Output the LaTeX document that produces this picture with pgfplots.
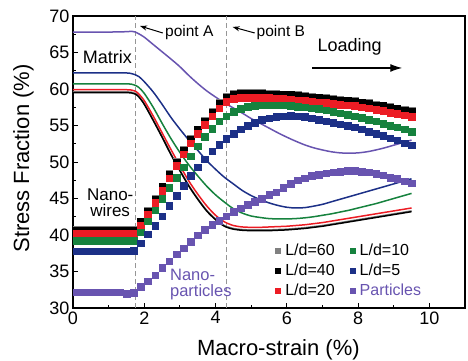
\documentclass[border=0pt]{standalone}
\usepackage{pgfplots}
\pgfplotsset{compat=1.18}
\usepackage{pgfplotstable}
\usepackage{fontspec}
\setmainfont{Liberation Sans}
\usetikzlibrary{arrows.meta}

\definecolor{cgray}{RGB}{128,128,128}
\definecolor{cred}{RGB}{236,28,36}
\definecolor{cgreen}{RGB}{22,130,62}
\definecolor{cblue}{RGB}{28,48,135}
\definecolor{cpurp}{RGB}{104,84,176}
\definecolor{cdash}{RGB}{150,150,150}

\pgfplotstableread{
x gy bk rd gn bl pu
0.1 40.7 40.6 40.2 39.2 37.8 32.2
0.3 40.7 40.6 40.2 39.2 37.8 32.2
0.5 40.7 40.6 40.2 39.2 37.8 32.2
0.7 40.7 40.6 40.2 39.2 37.8 32.2
0.9 40.7 40.6 40.2 39.2 37.8 32.2
1.1 40.7 40.6 40.2 39.2 37.8 32.2
1.3 40.7 40.6 40.2 39.2 37.8 32.2
1.5 40.7 40.6 40.2 39.2 37.8 32.0
1.7 40.7 40.6 40.2 39.2 37.9 32.1
1.9 41.9 41.8 41.3 40.4 38.9 32.9
2.1 43.4 43.3 42.8 41.9 40.1 33.7
2.3 45.0 44.9 44.4 43.4 41.3 34.5
2.5 46.7 46.6 46.1 45.0 42.6 35.5
2.7 48.4 48.3 47.8 46.5 44.0 36.4
2.9 50.1 50.0 49.5 47.9 45.4 37.4
3.1 51.7 51.6 51.1 49.3 46.8 38.2
3.3 53.2 53.1 52.6 50.8 48.1 39.1
3.5 54.5 54.4 53.9 52.2 49.3 40.0
3.7 55.7 55.6 55.1 53.5 50.4 40.7
3.9 56.9 56.8 56.3 54.6 51.5 41.4
4.1 58.1 58.0 57.4 55.6 52.4 42.0
4.3 59.0 58.9 58.3 56.3 53.2 42.6
4.5 59.4 59.3 58.7 56.9 53.9 43.2
4.7 59.5 59.4 58.8 57.3 54.5 43.7
4.9 59.5 59.4 58.8 57.55 55.0 44.2
5.1 59.5 59.4 58.8 57.7 55.4 44.6
5.3 59.5 59.4 58.8 57.8 55.8 45.0
5.5 59.4 59.3 58.8 57.8 56.0 45.5
5.7 59.4 59.3 58.7 57.8 56.2 45.9
5.9 59.3 59.2 58.7 57.8 56.3 46.5
6.1 59.3 59.2 58.6 57.7 56.35 47.0
6.3 59.2 59.1 58.5 57.6 56.3 47.5
6.5 59.1 59.0 58.4 57.5 56.2 47.8
6.7 59.0 58.9 58.3 57.4 56.0 48.1
6.9 58.9 58.8 58.2 57.3 55.8 48.3
7.1 58.8 58.7 58.1 57.1 55.6 48.5
7.3 58.7 58.6 58.0 56.9 55.4 48.6
7.5 58.6 58.5 57.9 56.7 55.2 48.7
7.7 58.5 58.4 57.8 56.5 55.0 48.8
7.9 58.4 58.3 57.7 56.3 54.8 48.8
8.1 58.2 58.1 57.5 56.1 54.5 48.7
8.3 58.1 58.0 57.4 55.8 54.2 48.6
8.5 57.9 57.8 57.2 55.6 53.9 48.4
8.7 57.8 57.7 57.0 55.3 53.6 48.2
8.9 57.6 57.5 56.8 55.0 53.3 47.9
9.1 57.4 57.3 56.6 54.8 53.0 47.7
9.3 57.2 57.1 56.4 54.5 52.6 47.4
9.5 57.0 56.9 56.2 54.2 52.3 47.1
}\markers

\pgfplotstableread{
x gy bk rd gn bl pu
0 59.6 59.5 59.9 60.7 62.2 67.8
0.5 59.6 59.5 59.9 60.7 62.2 67.8
1.0 59.6 59.5 59.9 60.7 62.2 67.8
1.5 59.6 59.5 59.9 60.7 62.2 67.85
1.65 59.55 59.45 59.85 60.65 62.1 67.9
1.75 59.4 59.3 59.7 60.5 61.95 67.8
1.85 59.0 58.9 59.3 60.2 61.7 67.55
2.0 58.0 57.9 58.4 59.4 61.0 67.1
2.25 55.8 55.7 56.3 57.5 59.6 66.1
2.5 53.5 53.4 54.0 55.3 57.9 65.1
2.75 51.1 51.0 51.7 53.2 56.1 64.1
3.0 48.9 48.8 49.5 51.3 54.5 63.05
3.25 46.8 46.7 47.4 49.6 53.0 61.85
3.5 45.0 44.9 45.6 48.1 51.6 60.75
3.75 43.4 43.3 44.0 46.7 50.2 59.75
4.0 42.2 42.1 42.7 45.5 49.0 58.9
4.25 41.3 41.2 41.8 44.5 47.9 58.1
4.5 40.9 40.8 41.3 43.6 47.0 57.4
4.75 40.75 40.65 41.1 43.0 46.1 56.7
5.0 40.7 40.6 41.05 42.6 45.4 55.95
5.25 40.7 40.6 41.05 42.4 44.85 55.3
5.5 40.7 40.6 41.1 42.25 44.4 54.65
5.75 40.75 40.65 41.15 42.2 44.05 54.0
6.0 40.8 40.7 41.2 42.2 43.8 53.4
6.25 40.9 40.8 41.3 42.25 43.7 52.85
6.5 41.0 40.9 41.4 42.35 43.75 52.35
6.75 41.15 41.05 41.55 42.5 43.95 51.95
7.0 41.3 41.2 41.7 42.7 44.2 51.65
7.25 41.5 41.4 41.9 42.9 44.55 51.4
7.5 41.7 41.6 42.1 43.15 44.9 51.25
7.75 41.9 41.8 42.3 43.4 45.25 51.2
8.0 42.1 42.0 42.5 43.7 45.6 51.25
8.25 42.3 42.2 42.7 44.0 45.95 51.4
8.5 42.5 42.4 42.9 44.3 46.3 51.65
8.75 42.7 42.6 43.1 44.65 46.65 51.95
9.0 42.9 42.8 43.3 45.0 47.0 52.3
9.25 43.1 43.0 43.5 45.35 47.35 52.65
9.5 43.3 43.2 43.7 45.7 47.7 53.0
}\lines

\begin{document}
\begin{tikzpicture}
\begin{axis}[
  scale only axis, width=392pt, height=292pt,
  xmin=0, xmax=11, ymin=30, ymax=70,
  xtick={0,2,4,6,8,10}, minor xtick={1,3,5,7,9},
  ytick={30,35,40,45,50,55,60,65,70},
  minor ytick={32.5,37.5,42.5,47.5,52.5,57.5,62.5,67.5},
  tick align=inside, xtick pos=bottom, ytick pos=left,
  major tick length=5pt, minor tick length=3pt,
  axis line style={line width=1.1pt},
  every tick/.style={black, line width=0.9pt},
  tick label style={font=\fontsize{18}{21}\selectfont},
  /pgf/number format/assume math mode=true,
  xlabel={Macro-strain (\%)}, ylabel={Stress Fraction (\%)},
  label style={font=\fontsize{22}{26}\selectfont},
  xlabel style={at={(axis description cs:0.524,-0.161)}, anchor=base},
  ylabel style={at={(axis description cs:-0.112,0.512)}, anchor=base, rotate=0},
  legend columns=2,
  legend cell align=left,
  legend style={draw=none, fill=none, font=\fontsize{16}{19}\selectfont,
    at={(axis description cs:0.508,0.2346)}, anchor=north west,
    nodes={inner xsep=5pt, inner ysep=2pt, text height=12pt, text depth=3pt},
    row sep=1pt,
    /tikz/every even column/.append style={column sep=10pt}},
]
\draw[cdash, line width=1pt, dash pattern=on 5pt off 3pt] (axis cs:1.75,30) -- (axis cs:1.75,70);
\draw[cdash, line width=1pt, dash pattern=on 5pt off 3pt] (axis cs:4.3,30) -- (axis cs:4.3,70);

% matrix lines
\addplot[forget plot, cgray, line width=1.5pt, smooth] table[x=x, y=gy] {\lines};
\addplot[forget plot, black, line width=1.5pt, smooth] table[x=x, y=bk] {\lines};
\addplot[forget plot, cred, line width=1.5pt, smooth] table[x=x, y=rd] {\lines};
\addplot[forget plot, cgreen, line width=1.5pt, smooth] table[x=x, y=gn] {\lines};
\addplot[forget plot, cblue, line width=1.5pt, smooth] table[x=x, y=bl] {\lines};
\addplot[forget plot, cpurp, line width=1.5pt, smooth] table[x=x, y=pu] {\lines};

% reinforcement markers
\addplot[forget plot, only marks, mark=square*, mark size=3.3pt, color=cgray, mark options={line width=0.2pt}] table[x=x, y=gy] {\markers};
\addplot[forget plot, only marks, mark=square*, mark size=3.3pt, color=black, mark options={line width=0.2pt}] table[x=x, y=bk] {\markers};
\addplot[forget plot, only marks, mark=square*, mark size=3.3pt, color=cred, mark options={line width=0.2pt}] table[x=x, y=rd] {\markers};
\addplot[forget plot, only marks, mark=square*, mark size=3.3pt, color=cgreen, mark options={line width=0.2pt}] table[x=x, y=gn] {\markers};
\addplot[forget plot, only marks, mark=square*, mark size=3.3pt, color=cblue, mark options={line width=0.2pt}] table[x=x, y=bl] {\markers};
\addplot[forget plot, only marks, mark=square*, mark size=3.3pt, color=cpurp, mark options={line width=0.2pt}] table[x=x, y=pu] {\markers};

\addlegendimage{only marks, mark=square*, mark size=2.5pt, color=cgray}
\addlegendentry{L/d=60}
\addlegendimage{only marks, mark=square*, mark size=2.5pt, color=cgreen}
\addlegendentry{L/d=10}
\addlegendimage{only marks, mark=square*, mark size=2.5pt, color=black}
\addlegendentry{L/d=40}
\addlegendimage{only marks, mark=square*, mark size=2.5pt, color=cblue}
\addlegendentry{L/d=5}
\addlegendimage{only marks, mark=square*, mark size=2.5pt, color=cred}
\addlegendentry{L/d=20}
\addlegendimage{only marks, mark=square*, mark size=2.5pt, color=cpurp}
\addlegendentry[text=cpurp]{Particles}

% annotations
\node[anchor=base, inner sep=0pt, font=\fontsize{18}{20}\selectfont] at (axis cs:0.966,63.56) {Matrix};
\node[anchor=base west, inner sep=0pt, font=\fontsize{17}{20}\selectfont] at (axis cs:0.39,44.79) {Nano-};
\node[anchor=base west, inner sep=0pt, font=\fontsize{17}{20}\selectfont] at (axis cs:0.48,42.51) {wires};
\node[anchor=base west, inner sep=0pt, text=cpurp, font=\fontsize{16.5}{20}\selectfont] at (axis cs:2.72,33.75) {Nano-};
\node[anchor=base west, inner sep=0pt, text=cpurp, font=\fontsize{16.5}{20}\selectfont] at (axis cs:2.72,31.6) {particles};
\node[anchor=base west, font=\fontsize{15.5}{18}\selectfont, inner sep=0pt] at (axis cs:2.58,67.16) {point A};
\draw[-{Stealth[length=7pt,width=5pt]}, line width=1pt] (axis cs:2.52,67.67) -- (axis cs:1.88,68.63);
\node[anchor=base west, font=\fontsize{15.5}{18}\selectfont, inner sep=0pt] at (axis cs:5.15,67.16) {point B};
\draw[-{Stealth[length=7pt,width=5pt]}, line width=1pt] (axis cs:5.10,67.67) -- (axis cs:4.48,68.5);
\node[anchor=base, inner sep=0pt, font=\fontsize{18}{20}\selectfont] at (axis cs:7.76,65.07) {Loading};
\draw[-{Latex[length=12pt,width=8pt]}, line width=1.3pt] (axis cs:6.72,62.88) -- (axis cs:9.24,62.88);
\end{axis}
\pgfresetboundingbox
\path[use as bounding box] ([shift={(-73pt,-53pt)}]current axis.south west) rectangle ([shift={(3pt,16pt)}]current axis.north east);
\end{tikzpicture}
\end{document}
